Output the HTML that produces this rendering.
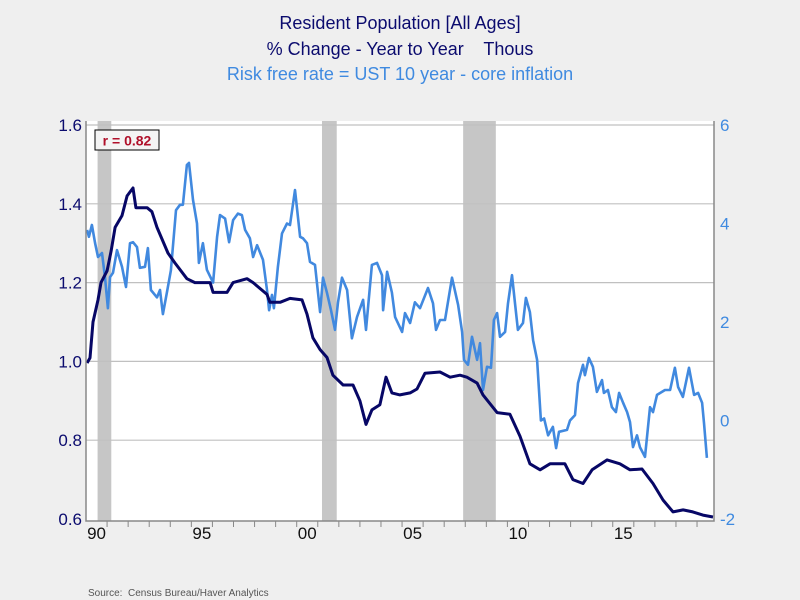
<!DOCTYPE html>
<html><head><meta charset="utf-8"><style>
body{margin:0;background:#efefef;}
svg{display:block;font-family:"Liberation Sans",sans-serif;}
</style></head><body>
<svg id="chart" width="800" height="600">
<rect x="0" y="0" width="800" height="600" fill="#efefef"/>
<rect x="86" y="121" width="628" height="400" fill="#ffffff"/>
<text x="400" y="29" text-anchor="middle" font-size="18" fill="#0b0b6e">Resident Population [All Ages]</text>
<text x="400" y="55" text-anchor="middle" font-size="18" fill="#0b0b6e" xml:space="preserve">% Change - Year to Year    Thous</text>
<text x="400" y="80" text-anchor="middle" font-size="18" fill="#3f8ae0">Risk free rate = UST 10 year - core inflation</text>
<g id="rec"></g><g id="grid"></g><g id="series"></g><g id="axes"></g>
<rect x="95" y="130" width="64" height="20" fill="#f4f4f4" stroke="#000" stroke-width="1"/>
<text x="127" y="145.5" text-anchor="middle" font-size="14" font-weight="bold" fill="#b0102a">r = 0.82</text>
<text x="88" y="596" font-size="10" fill="#555" xml:space="preserve">Source:  Census Bureau/Haver Analytics</text>
</svg>
<script>
const recessionStarts=[1990.55,2001.2,2007.9];
const recessionEnds=[1991.2,2001.9,2009.45];
const leftTicks=[0.6,0.8,1.0,1.2,1.4,1.6];
const rightTicks=[-2,0,2,4,6];
const xTickLabels=["90","95","00","05","10","15"];
const xTickYears=[1990,1995,2000,2005,2010,2015];
const popDates=[1990.05,1990.19,1990.33,1990.57,1990.71,1991.0,1991.19,1991.38,1991.71,1991.95,1992.23,1992.37,1992.9,1993.13,1993.37,1993.89,1994.22,1994.79,1995.17,1995.65,1995.89,1996.03,1996.69,1996.98,1997.64,1997.93,1998.59,1998.73,1999.21,1999.68,2000.25,2000.49,2000.77,2001.11,2001.44,2001.72,2002.2,2002.67,2003.0,2003.29,2003.57,2003.95,2004.24,2004.52,2004.9,2005.38,2005.71,2006.09,2006.8,2007.28,2007.75,2008.08,2008.56,2008.84,2009.51,2010.12,2010.6,2011.07,2011.55,2012.02,2012.73,2013.11,2013.59,2014.02,2014.73,2015.34,2015.82,2016.39,2016.91,2017.39,2017.86,2018.34,2018.8,2019.28,2019.76];
const popValues=[0.996,1.009,1.10,1.156,1.20,1.23,1.28,1.34,1.37,1.42,1.44,1.39,1.39,1.38,1.34,1.275,1.25,1.21,1.20,1.20,1.20,1.175,1.175,1.20,1.21,1.20,1.17,1.15,1.15,1.16,1.156,1.12,1.06,1.03,1.01,0.965,0.94,0.94,0.90,0.84,0.877,0.89,0.96,0.92,0.915,0.92,0.93,0.97,0.973,0.96,0.965,0.96,0.945,0.915,0.87,0.866,0.81,0.74,0.725,0.74,0.74,0.70,0.69,0.725,0.75,0.74,0.725,0.727,0.69,0.648,0.618,0.623,0.618,0.61,0.605];
const rateDates=[1990.05,1990.14,1990.28,1990.43,1990.57,1990.76,1990.90,1991.04,1991.14,1991.28,1991.47,1991.71,1991.90,1992.09,1992.23,1992.42,1992.56,1992.80,1992.94,1993.08,1993.37,1993.51,1993.65,1993.84,1994.03,1994.27,1994.46,1994.60,1994.79,1994.89,1995.08,1995.27,1995.36,1995.55,1995.74,1996.03,1996.22,1996.36,1996.60,1996.79,1996.98,1997.21,1997.40,1997.55,1997.78,1997.93,1998.12,1998.40,1998.59,1998.69,1998.83,1998.92,1999.11,1999.30,1999.54,1999.68,1999.92,2000.16,2000.30,2000.49,2000.63,2000.87,2001.11,2001.25,2001.44,2001.63,2001.82,2001.96,2002.15,2002.39,2002.62,2002.86,2003.15,2003.29,2003.57,2003.81,2004.05,2004.10,2004.29,2004.52,2004.67,2005.0,2005.14,2005.38,2005.61,2005.85,2006.23,2006.47,2006.61,2006.80,2007.04,2007.37,2007.66,2007.85,2007.94,2008.13,2008.32,2008.56,2008.70,2008.84,2009.03,2009.22,2009.36,2009.51,2009.65,2009.89,2010.03,2010.22,2010.36,2010.50,2010.74,2010.88,2011.07,2011.22,2011.41,2011.59,2011.74,2011.93,2012.16,2012.31,2012.45,2012.83,2012.97,2013.21,2013.35,2013.59,2013.68,2013.87,2014.06,2014.25,2014.49,2014.58,2014.77,2014.96,2015.15,2015.30,2015.49,2015.68,2015.82,2015.96,2016.15,2016.29,2016.53,2016.77,2016.91,2017.10,2017.48,2017.72,2017.95,2018.10,2018.33,2018.62,2018.86,2019.05,2019.24,2019.33,2019.47];
const rateValues=[3.87,3.73,3.97,3.6,3.32,3.4,2.91,2.28,2.91,3.0,3.46,3.12,2.71,3.6,3.62,3.52,3.1,3.12,3.5,2.65,2.5,2.65,2.16,2.6,3.05,4.27,4.38,4.38,5.19,5.23,4.48,4.0,3.2,3.6,3.06,2.8,3.73,4.17,4.1,3.62,4.07,4.2,4.17,3.87,3.7,3.32,3.56,3.26,2.65,2.24,2.55,2.28,3.12,3.8,4.0,3.97,4.68,3.73,3.7,3.6,3.22,3.16,2.2,2.9,2.59,2.24,1.84,2.4,2.9,2.65,1.67,2.1,2.45,1.84,3.16,3.2,2.95,2.24,3.02,2.6,2.1,1.8,2.18,1.98,2.4,2.28,2.69,2.38,1.84,2.04,2.04,2.9,2.35,1.8,1.23,1.13,1.7,1.23,1.57,0.62,1.09,1.07,2.04,2.18,1.7,1.8,2.38,2.95,2.38,1.84,1.98,2.49,2.2,1.63,1.23,0.0,0.04,-0.3,-0.13,-0.56,-0.23,-0.19,0.0,0.11,0.76,1.13,0.92,1.27,1.09,0.58,0.82,0.56,0.62,0.27,0.17,0.56,0.36,0.17,-0.03,-0.54,-0.3,-0.54,-0.74,0.27,0.17,0.52,0.62,0.62,1.07,0.68,0.48,1.07,0.52,0.56,0.36,-0.05,-0.76];

const NS="http://www.w3.org/2000/svg";
const X0=86,X1=714,Y0=121,Y1=521;
function xS(yr){return X0+(yr-1990)*21.07;}
function yL(v){return 519-(v-0.6)*394;}
function yR(v){return 519-(v+2)*49.25;}
function mk(tag,attrs,parent){const e=document.createElementNS(NS,tag);for(const k in attrs)e.setAttribute(k,attrs[k]);parent.appendChild(e);return e;}
const rec=document.getElementById('rec'),grid=document.getElementById('grid'),series=document.getElementById('series'),axes=document.getElementById('axes');
recessionStarts.forEach((s,i)=>{
  const r=mk('rect',{x:xS(s),y:Y0,width:xS(recessionEnds[i])-xS(s),height:Y1-Y0,fill:'#c6c6c6'},rec);
  
  
});
leftTicks.forEach(v=>{
  if(v>0.6){const l=mk('line',{x1:X0,x2:X1,y1:yL(v),y2:yL(v),stroke:'#c0c0c0','stroke-width':1.2},grid);
  
  }
  const t=mk('text',{x:82,y:yL(v)+6,'text-anchor':'end','font-size':17,fill:'#0b0b6e'},axes);
  t.textContent=v.toFixed(1);
  
  
});
rightTicks.forEach(v=>{
  const t=mk('text',{x:720,y:yR(v)+6,'font-size':17,fill:'#3f8ae0'},axes);
  t.textContent=String(v);
  
  
});
for(let yr=1991;yr<=2019;yr++){
  const tk=mk('line',{x1:xS(yr),x2:xS(yr),y1:Y1,y2:Y1+6,stroke:'#888','stroke-width':1},axes);
  
  
}
xTickYears.forEach((yr,i)=>{
  const t=mk('text',{x:xS(yr+0.5),y:539,'text-anchor':'middle','font-size':17,fill:'#111'},axes);
  t.textContent=xTickLabels[i];
  
  
});
const ax=mk('path',{d:`M${X0},${Y0}V${Y1}H${X1}V${Y0}`,fill:'none',stroke:'#888','stroke-width':1.5},axes);


function line(dates,vals,ys,color,w,name){
  const d=dates.map((t,i)=>(i?'L':'M')+xS(t).toFixed(1)+','+ys(vals[i]).toFixed(1)).join('');
  const p=mk('path',{d:d,fill:'none',stroke:color,'stroke-width':w,'stroke-linejoin':'round'},series);
  
  
}
line(rateDates,rateValues,yR,'#4189df',2.6,'risk-free-rate-line');
line(popDates,popValues,yL,'#070766',3,'population-growth-line');
</script>
</body></html>
